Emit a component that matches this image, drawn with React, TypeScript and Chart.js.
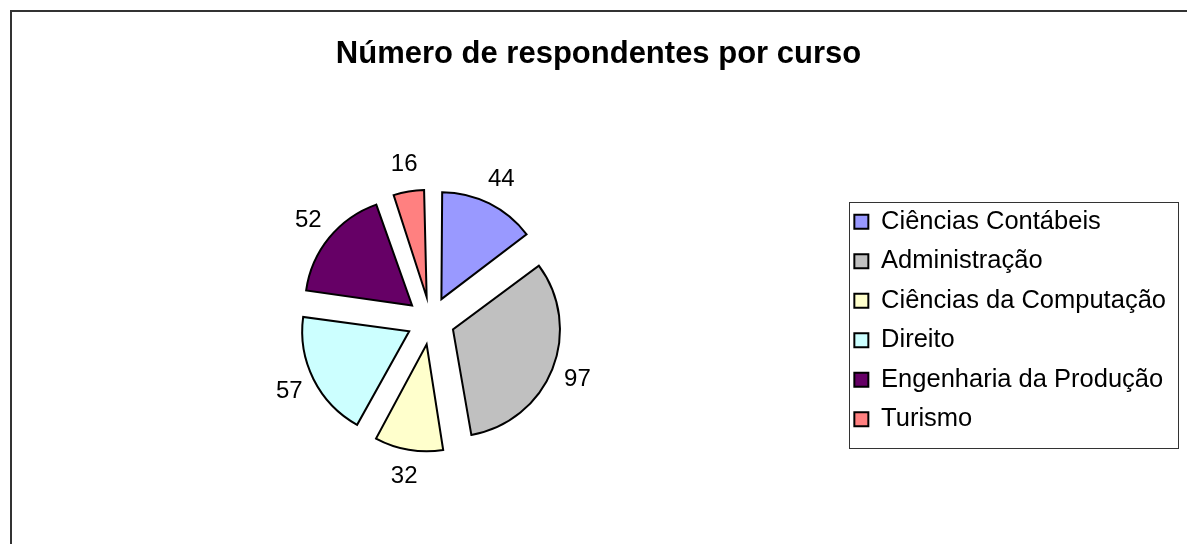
import React, { useEffect, useRef } from "react";
import { Chart, registerables } from "chart.js";

Chart.register(...registerables);

// ---- data ----
const cursos = [
  "Ciências Contábeis",
  "Administração",
  "Ciências da Computação",
  "Direito",
  "Engenharia da Produção",
  "Turismo",
];
const respondentes = [44, 97, 32, 57, 52, 16];
const coresFatias = ["#9999FF", "#C0C0C0", "#FFFFCC", "#CCFFFF", "#660066", "#FF8080"];
const titulo = "Número de respondentes por curso";

const FONT = "'Liberation Sans', Arial, Helvetica, sans-serif";
const EXPLODE = 96; // Chart.js applies offset / 4 as the translation

// Chart.js grows small exploded slices a bit; keep every slice the same radius.
const equalRadiusPlugin = {
  id: "equalRadius",
  beforeDatasetDraw(_chart: any, args: any) {
    args.meta.data.forEach((arc: any) => {
      const off = (arc.options.offset || 0) / 4;
      const fix = 1 - Math.sin(Math.min(Math.PI, arc.circumference || 0));
      arc.$origR = arc.outerRadius;
      arc.outerRadius = arc.outerRadius - off * fix;
    });
  },
  afterDatasetDraw(_chart: any, args: any) {
    args.meta.data.forEach((arc: any) => {
      if (arc.$origR !== undefined) {
        arc.outerRadius = arc.$origR;
        delete arc.$origR;
      }
    });
  },
};

const valueLabelsPlugin = {
  id: "valueLabels",
  afterDatasetsDraw(chart: any) {
    const ctx = chart.ctx;
    const meta = chart.getDatasetMeta(0);
    const ds = chart.data.datasets[0];
    ctx.save();
    ctx.font = `24px ${FONT}`;
    ctx.fillStyle = "#000";
    ctx.textAlign = "center";
    ctx.textBaseline = "middle";
    meta.data.forEach((arc: any, i: number) => {
      const mid = (arc.startAngle + arc.endAngle) / 2;
      const d = arc.outerRadius + (arc.options.offset || 0) / 4 + 27;
      ctx.fillText(String(ds.data[i]), arc.x + Math.cos(mid) * d, arc.y + Math.sin(mid) * d);
    });
    ctx.restore();
  },
};

const legendFramePlugin = {
  id: "legendFrame",
  afterDraw(chart: any) {
    const lg = chart.legend;
    if (!lg || !lg.legendHitBoxes || !lg.legendHitBoxes.length) return;
    const hb = lg.legendHitBoxes;
    const last = hb[hb.length - 1];
    const top = hb[0].top - 7;
    const bottom = last.top + last.height + 16;
    const left = hb[0].left - 5;
    const right = Math.max(...hb.map((h: any) => h.left + h.width)) + 12;
    const ctx = chart.ctx;
    ctx.save();
    ctx.strokeStyle = "#333";
    ctx.lineWidth = 1;
    ctx.strokeRect(Math.round(left) + 0.5, Math.round(top) + 0.5, Math.round(right - left), Math.round(bottom - top));
    ctx.restore();
  },
};

export default function App() {
  const ref = useRef<HTMLCanvasElement>(null);

  useEffect(() => {
    if (!ref.current) return;
    const chart = new Chart(ref.current, {
      type: "pie",
      data: {
        labels: cursos,
        datasets: [
          {
            data: respondentes,
            backgroundColor: coresFatias,
            borderColor: "#000",
            borderWidth: 2,
            borderJoinStyle: "miter",
            offset: EXPLODE,
            hoverOffset: 0,
          } as any,
        ],
      },
      options: {
        responsive: false,
        animation: false,
        radius: 107,
        layout: { padding: { left: 21, right: 11, top: 0, bottom: 3 } },
        plugins: {
          title: {
            display: true,
            text: titulo,
            color: "#000",
            font: { family: FONT, size: 31, weight: "bold" },
            padding: { top: 36, bottom: 27 },
          },
          legend: {
            display: true,
            position: "right",
            align: "center",
            fullSize: false,
            labels: {
              color: "#000",
              font: { family: FONT, size: 25.5 },
              boxWidth: 14,
              boxHeight: 14,
              padding: 14,
            },
          },
          tooltip: { enabled: false },
        },
      } as any,
      plugins: [equalRadiusPlugin, valueLabelsPlugin, legendFramePlugin],
    });
    return () => chart.destroy();
  }, []);

  return (
    <>
      <div
        style={{
          position: "absolute",
          left: 10,
          top: 10,
          width: 1177,
          height: 534,
          borderTop: "2px solid #333",
          borderLeft: "2px solid #333",
          boxSizing: "border-box",
        }}
      />
      <canvas
        ref={ref}
        width={1187}
        height={544}
        style={{ position: "absolute", left: 0, top: 0, width: 1187, height: 544, display: "block" }}
      />
    </>
  );
}
